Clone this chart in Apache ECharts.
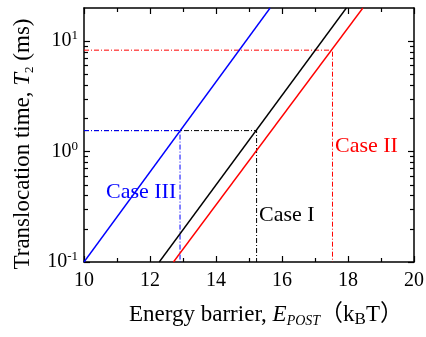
<!DOCTYPE html>
<html>
<head>
<meta charset="utf-8">
<script src="https://cdn.jsdelivr.net/npm/echarts@6/dist/echarts.min.js"></script>
<style>
  html, body { margin: 0; background: #fff; }
  #chart { width: 426px; height: 337px; }
</style>
</head>
<body>
<div id="chart"></div>
<script>
// axis ranges and ticks
const xRange = [10, 20]
const yRange = [0.1, 20]
const yMajorTicks = [0.1, 1, 10]
const yMinorTicks = [0.2, 0.3, 0.4, 0.5, 0.6, 0.7, 0.8, 0.9, 2, 3, 4, 5, 6, 7, 8, 9]

// main curves (straight in log-linear space), [E, T2]
const case3Line = [[10, 0.1], [15.64, 20]]
const case1Line = [[12.28, 0.1], [17.95, 20]]
const case2Line = [[12.71, 0.1], [18.45, 20]]

// dash-dot guide lines
const case1Guide = [[10, 1.55], [15.23, 1.55], [15.23, 0.1]]
const case3Guide = [[10, 1.55], [12.91, 1.55], [12.91, 0.1]]
const case2Guide = [[10, 8.3], [17.53, 8.3], [17.53, 0.1]]

const caseNames = ['Case I', 'Case II', 'Case III']
const colors = { c1: '#000000', c2: '#ff0000', c3: '#0000ff' }

const serif = '"Liberation Serif", "Times New Roman", "Noto Sans CJK SC", serif'
const dashDot = [5, 2, 1, 2]

function solid (name, data, color) {
  return {
    name,
    type: 'line',
    data,
    symbol: 'none',
    silent: true,
    lineStyle: { color, width: 1.4 },
    z: 3
  }
}

function guide (data, color) {
  return {
    type: 'line',
    data,
    symbol: 'none',
    silent: true,
    lineStyle: { color, width: 1, type: dashDot },
    z: 2
  }
}

function xAxisOf (position, showLabel) {
  return {
    type: 'value',
    position,
    min: xRange[0],
    max: xRange[1],
    interval: 2,
    axisLine: { show: true, onZero: false, lineStyle: { color: '#000', width: 1.5 } },
    axisTick: { show: true, inside: true, length: 6, lineStyle: { color: '#000', width: 1.2 } },
    minorTick: { show: true, splitNumber: 2, length: 4, lineStyle: { color: '#000', width: 1.2 } },
    splitLine: { show: false },
    axisLabel: {
      show: showLabel,
      margin: 9,
      fontSize: 20,
      fontFamily: serif,
      color: '#000'
    }
  }
}

// log ticks are placed on hidden linear axes over log10(T2)
function tickYAxis (position, values, len) {
  return {
    type: 'value',
    position,
    min: Math.log10(yRange[0]),
    max: Math.log10(yRange[1]),
    axisLine: { show: false },
    axisTick: {
      show: true,
      inside: true,
      length: len,
      customValues: values.map((v) => Math.log10(v)),
      lineStyle: { color: '#000', width: 1.2 }
    },
    axisLabel: { show: false, customValues: values.map((v) => Math.log10(v)) },
    splitLine: { show: false }
  }
}

function logFormatter (v) {
  const p = Math.log10(v)
  const e = Math.round(p)
  if (Math.abs(p - e) > 1e-6) return ''
  return '{b|10}{s|' + e + '}'
}

const chart = echarts.init(document.getElementById('chart'), null, { renderer: 'canvas' })

chart.setOption({
  animation: false,
  backgroundColor: '#fff',
  grid: { left: 84, right: 12, top: 8, bottom: 75, outerBoundsMode: 'none' },
  xAxis: [
    Object.assign(xAxisOf('bottom', true), {
      name: 'Energy barrier, {i|E}{sub|POST}{n|（k}{sc|B}{n|T）}',
      nameLocation: 'middle',
      nameGap: 40,
      nameTextStyle: {
        fontSize: 23,
        fontFamily: serif,
        color: '#000',
        padding: [0, 0, 0, 34],
        rich: {
          i: { fontSize: 23, fontFamily: serif, fontStyle: 'italic', color: '#000', lineHeight: 26 },
          sub: { fontSize: 14, fontFamily: serif, fontStyle: 'italic', color: '#000', lineHeight: 6, verticalAlign: 'bottom' },
          n: { fontSize: 23, fontFamily: serif, color: '#000', lineHeight: 26 },
          sc: { fontSize: 17, fontFamily: serif, color: '#000', lineHeight: 23, verticalAlign: 'bottom' }
        }
      }
    }),
    xAxisOf('top', false)
  ],
  yAxis: [
    {
      type: 'log',
      logBase: 10,
      position: 'left',
      min: yRange[0],
      max: yRange[1],
      axisLine: { show: true, onZero: false, lineStyle: { color: '#000', width: 1.5 } },
      axisTick: { show: false },
      splitLine: { show: false },
      axisLabel: {
        showMaxLabel: false,
        margin: 6,
        formatter: logFormatter,
        rich: {
          b: { fontSize: 20, fontFamily: serif, color: '#000', lineHeight: 24 },
          s: { fontSize: 13, fontFamily: serif, color: '#000', lineHeight: 8, verticalAlign: 'top' }
        }
      },
      name: 'Translocation time, {i|T}{sub|2} (ms)',
      nameLocation: 'middle',
      nameGap: 46,
      nameRotate: 90,
      nameTextStyle: {
        fontSize: 23,
        fontFamily: serif,
        color: '#000',
        padding: [0, 18, 0, 0],
        rich: {
          i: { fontSize: 23, fontFamily: serif, fontStyle: 'italic', color: '#000', lineHeight: 26 },
          sub: { fontSize: 13, fontFamily: serif, color: '#000', lineHeight: 6, verticalAlign: 'bottom' }
        }
      }
    },
    {
      type: 'log',
      logBase: 10,
      position: 'right',
      min: yRange[0],
      max: yRange[1],
      axisLine: { show: true, onZero: false, lineStyle: { color: '#000', width: 1.5 } },
      axisTick: { show: false },
      axisLabel: { show: false },
      splitLine: { show: false }
    },
    tickYAxis('left', yMajorTicks, 6),
    tickYAxis('left', yMinorTicks, 4),
    tickYAxis('right', yMajorTicks, 6),
    tickYAxis('right', yMinorTicks, 4)
  ],
  series: [
    guide(case1Guide, colors.c1),
    guide(case3Guide, colors.c3),
    guide(case2Guide, colors.c2),
    solid(caseNames[2], case3Line, colors.c3),
    solid(caseNames[0], case1Line, colors.c1),
    solid(caseNames[1], case2Line, colors.c2)
  ],
  graphic: [
    { type: 'text', x: 106, y: 192, style: { text: caseNames[2], fill: colors.c3, font: '22px ' + serif, align: 'left', verticalAlign: 'middle' } },
    { type: 'text', x: 335, y: 146, style: { text: caseNames[1], fill: colors.c2, font: '22px ' + serif, align: 'left', verticalAlign: 'middle' } },
    { type: 'text', x: 259, y: 215, style: { text: caseNames[0], fill: colors.c1, font: '22px ' + serif, align: 'left', verticalAlign: 'middle' } }
  ]
})
</script>
</body>
</html>
